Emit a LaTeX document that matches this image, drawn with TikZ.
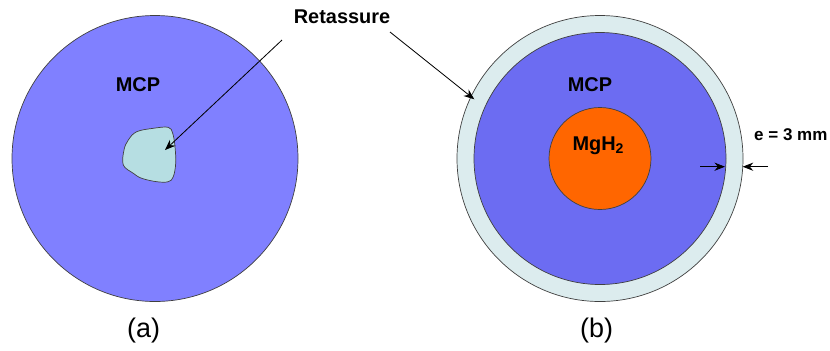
\documentclass[tikz,border=0pt]{standalone}
\usepackage{fontspec}
\setmainfont{Liberation Sans}
\usetikzlibrary{arrows.meta}
\definecolor{mcpa}{RGB}{128,128,255}
\definecolor{mcpb}{RGB}{108,108,242}
\definecolor{shellc}{RGB}{220,236,238}
\definecolor{voidc}{RGB}{182,222,226}
\definecolor{hydride}{RGB}{255,102,0}
\tikzset{
  lbl/.style={font=\bfseries\fontsize{17}{20}\selectfont, anchor=base, inner sep=0pt},
  caption/.style={font=\fontsize{23}{26}\selectfont, anchor=base, inner sep=0pt},
  rim/.style={draw=black!75, line width=0.6pt}
}
\begin{document}
\begin{tikzpicture}[x=0.03cm, y=-0.03cm, >={Stealth[length=9pt,width=7pt]}]
\useasboundingbox (0,0) rectangle (830,350);
\coordinate (A) at (155,158.5);
\coordinate (B) at (600,158.5);

% (a)
\draw[rim, fill=mcpa] (A) circle (143);
\draw[rim, fill=voidc] plot[smooth cycle, tension=0.6] coordinates {(123.3,165) (124,150) (128.3,140) (136.7,131.7) (153.3,128.3) (168.3,127.3) (172.7,133.3) (175,146.7) (175.7,163.3) (173.3,176.7) (168.3,181.7) (156.7,181.7) (141.7,178.3) (133.3,173.3)};

% (b)
\draw[rim, fill=shellc] (B) circle (143);
\draw[rim, fill=mcpb] (B) circle (126);
\draw[rim, fill=hydride] (B) circle (51);

\node[lbl] (mcpA) at (138,91.7) {MCP};
\node[lbl] (mcpB) at (590,91) {MCP};
\node[lbl] (mgh) at (598,150) {MgH\raisebox{-0.35ex}{\fontsize{12}{14}\selectfont 2}};
\node[lbl] (ret) at (342,23.3) {Retassure};
\node[lbl, font=\bfseries\fontsize{14.5}{17}\selectfont] (ep) at (790.8,140) {e = 3 mm};
\node[caption] (ca) at (143.7,337.3) {(a)};
\node[caption] (cb) at (596.7,337.3) {(b)};

\coordinate (r1) at (282,40);
\coordinate (r2) at (390,32);
\coordinate (cavity) at (165,150);
\coordinate (shell) at (474.3,99.3);
\draw[->, line width=0.7pt] (r1) -- (cavity);
\draw[->, line width=0.7pt] (r2) -- (shell);

\coordinate (d1) at (700,166.7);
\coordinate (d2) at (725,166.7);
\coordinate (d3) at (768,166.7);
\coordinate (d4) at (742.7,166.7);
\draw[->, line width=0.7pt] (d1) -- (d2);
\draw[->, line width=0.7pt] (d3) -- (d4);
\end{tikzpicture}
\end{document}
